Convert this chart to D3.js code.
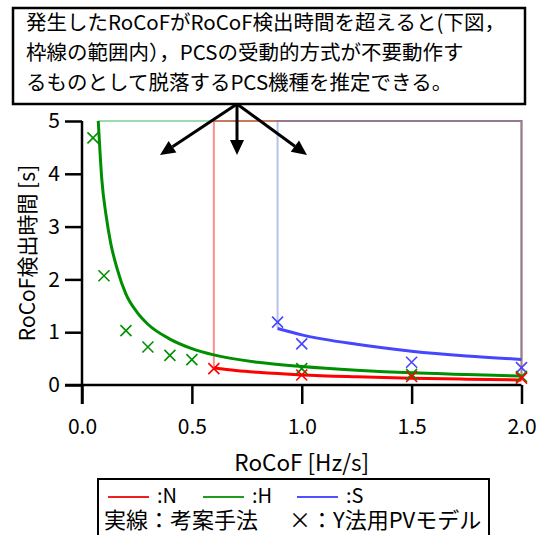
<!DOCTYPE html>
<html><head><meta charset="utf-8">
<script src="https://cdn.jsdelivr.net/npm/d3@7"></script>
<style>
html,body{margin:0;padding:0;background:#fff;}
svg{display:block;}
text{font-family:"Noto Sans CJK JP","Noto Sans",sans-serif;fill:#000;}
</style></head>
<body>
<svg id="chart" width="541" height="535"></svg>
<script>
// ---- data ----
const xTicks = [0, 0.5, 1.0, 1.5, 2.0];
const yTicks = [0, 1, 2, 3, 4, 5];
const xTickLabels = ["0.0", "0.5", "1.0", "1.5", "2.0"];

// proposed-method curves (solid lines)
const nCurveX = [0.6, 0.7, 0.8, 1.0, 1.25, 1.5, 1.75, 2.0];
const nCurveY = [0.32, 0.275, 0.24, 0.19, 0.155, 0.13, 0.11, 0.095];
const hCurveX = [0.074, 0.09, 0.11, 0.13, 0.16, 0.2, 0.25, 0.3, 0.4, 0.5, 0.6, 0.8, 1.0, 1.25, 1.5, 1.75, 2.0];
const hCurveY = [5.0, 3.9, 3.2, 2.7, 2.2, 1.72, 1.38, 1.15, 0.87, 0.69, 0.57, 0.43, 0.35, 0.28, 0.23, 0.2, 0.17];
const sCurveX = [0.89, 1.0, 1.25, 1.5, 1.75, 2.0];
const sCurveY = [1.07, 0.95, 0.77, 0.64, 0.55, 0.485];

// Y-method PV model results (× markers)
const nMarkX = [0.6, 1.0, 1.5, 2.0];
const nMarkY = [0.31, 0.19, 0.16, 0.13];
const hMarkX = [0.05, 0.1, 0.2, 0.3, 0.4, 0.5, 1.0, 1.5, 2.0];
const hMarkY = [4.68, 2.07, 1.03, 0.72, 0.56, 0.48, 0.31, 0.2, 0.16];
const sMarkX = [0.89, 1.0, 1.5, 2.0];
const sMarkY = [1.19, 0.78, 0.43, 0.33];

const seriesNames = ["N", "H", "S"];
const titleLines = [
  "発生したRoCoFがRoCoF検出時間を超えると(下図，",
  "枠線の範囲内），PCSの受動的方式が不要動作す",
  "るものとして脱落するPCS機種を推定できる。"
];
const xLabel = "RoCoF [Hz/s]";
const yLabel = "RoCoF検出時間 [s]";
const legendLine2a = "実線：考案手法";
const legendLine2b = "×：Y法用PVモデル";
const yMax = 5;

// ---- styles ----
const colors = {N: "#ff0000", H: "#008f00", S: "#4646ff"};
const legendColors = {N: "#f02020", H: "#209a20", S: "#5050ff"};
const latin = "Liberation Sans, Arial, sans-serif";

const svg = d3.select("#chart");
const x = d3.scaleLinear().domain([0, 2]).range([82, 521.5]);
const y = d3.scaleLinear().domain([0, 5]).range([385, 121]);

const zip = (xs, ys) => xs.map((v, i) => [v, ys[i]]);
const curves = {
  N: zip(nCurveX, nCurveY),
  H: zip(hCurveX, hCurveY),
  S: zip(sCurveX, sCurveY)
};
const marks = {
  N: zip(nMarkX, nMarkY),
  H: zip(hMarkX, hMarkY),
  S: zip(sMarkX, sMarkY)
};

// ---- region boxes (semi-transparent outlines) ----
const boxG = svg.append("g");
["H", "N", "S"].forEach(k => {
  const c = curves[k];
  const first = c[0], last = c[c.length - 1];
  const pts = [[first[0], first[1]], [first[0], yMax], [last[0], yMax], [last[0], last[1]]];
  boxG.append("path")
    .attr("d", d3.line().x(d => x(d[0])).y(d => y(d[1]))(pts))
    .attr("fill", "none")
    .attr("stroke", k === "S" ? "#5a7ad0" : (k === "H" ? "#20b050" : colors[k]))
    .attr("stroke-opacity", 0.45)
    .attr("stroke-width", 2);
});

// ---- curves ----
const line = d3.line().x(d => x(d[0])).y(d => y(d[1])).curve(d3.curveMonotoneX);
["H", "N", "S"].forEach(k => {
  svg.append("path")
    .attr("d", line(curves[k]))
    .attr("fill", "none")
    .attr("stroke", colors[k])
    .attr("stroke-width", 3);
});

// ---- markers ----
const ms = 5.5;
["S", "H", "N"].forEach(k => {
  svg.append("g").selectAll("path").data(marks[k]).join("path")
    .attr("d", d => {
      const cx = x(d[0]), cy = y(d[1]);
      return `M${cx - ms},${cy - ms}L${cx + ms},${cy + ms}M${cx - ms},${cy + ms}L${cx + ms},${cy - ms}`;
    })
    .attr("stroke", colors[k])
    .attr("stroke-width", 1.6)
    .attr("fill", "none");
});

// ---- axes ----
const axisW = 2.5;
const yAxis = d3.axisLeft(y).tickValues(yTicks).tickSize(17).tickPadding(5).tickFormat(d3.format("d"));
const gy = svg.append("g").attr("transform", `translate(${x(0)},0)`).call(yAxis);
gy.select(".domain").remove();
gy.selectAll(".tick line").attr("stroke", "#000").attr("stroke-width", axisW);
gy.selectAll(".tick text").attr("font-size", 21).attr("font-family", latin).attr("fill", "#000");

const xAxis = d3.axisBottom(x).tickValues(xTicks).tickSize(19).tickPadding(15).tickFormat((d, i) => xTickLabels[i]);
const gx = svg.append("g").attr("transform", `translate(0,${y(0)})`).call(xAxis);
gx.select(".domain").remove();
gx.selectAll(".tick line").attr("stroke", "#000").attr("stroke-width", axisW);
gx.selectAll(".tick text").attr("font-size", 21).attr("font-family", latin).attr("fill", "#000");

// axis lines (y axis extends below zero to tick length, x axis extends left)
svg.append("line").attr("x1", x(0)).attr("x2", x(0)).attr("y1", y(5)).attr("y2", y(0) + 19)
  .attr("stroke", "#000").attr("stroke-width", axisW);
svg.append("line").attr("x1", x(0) - 17).attr("x2", x(2)).attr("y1", y(0)).attr("y2", y(0))
  .attr("stroke", "#000").attr("stroke-width", axisW);

// axis titles
svg.append("text").attr("x", (x(0) + x(2)) / 2).attr("y", 471).attr("text-anchor", "middle")
  .attr("font-size", 22.5).text(xLabel);
svg.append("text").attr("transform", `translate(35,${(y(0) + y(5)) / 2}) rotate(-90)`)
  .attr("text-anchor", "middle").attr("font-size", 21).text(yLabel);

// ---- title box with arrows ----
svg.append("rect").attr("x", 13).attr("y", 8).attr("width", 512).attr("height", 96)
  .attr("fill", "#fff").attr("stroke", "#000").attr("stroke-width", 2.5);
svg.append("g").selectAll("text").data(titleLines).join("text")
  .attr("x", 26).attr("y", (d, i) => 30 + i * 30)
  .attr("font-size", 20.5).text(d => d);

const arrowOrigin = [237, 104];
const arrowTips = [[160, 155], [237, 155], [307, 155]];
const ag = svg.append("g");
arrowTips.forEach(t => {
  const dx = t[0] - arrowOrigin[0], dy = t[1] - arrowOrigin[1];
  const len = Math.hypot(dx, dy), ux = dx / len, uy = dy / len;
  const hl = 15, hw = 7;
  const bx = t[0] - ux * hl, by = t[1] - uy * hl;
  ag.append("line").attr("x1", arrowOrigin[0]).attr("y1", arrowOrigin[1]).attr("x2", bx).attr("y2", by)
    .attr("stroke", "#000").attr("stroke-width", 3);
  ag.append("path")
    .attr("d", `M${t[0]},${t[1]}L${bx - uy * hw},${by + ux * hw}L${bx + uy * hw},${by - ux * hw}Z`)
    .attr("fill", "#000");
});

// ---- legend ----
const lg = svg.append("g");
lg.append("rect").attr("x", 98).attr("y", 479).attr("width", 391).attr("height", 70)
  .attr("fill", "#fff").attr("stroke", "#000").attr("stroke-width", 2);
const legX = [108, 203, 297];
seriesNames.forEach((k, i) => {
  lg.append("line").attr("x1", legX[i]).attr("x2", legX[i] + 41).attr("y1", 497).attr("y2", 497)
    .attr("stroke", legendColors[k]).attr("stroke-width", 2);
  lg.append("text").attr("x", legX[i] + 49).attr("y", 503).attr("font-size", 20)
    .attr("font-family", latin).text(":" + k);
});
lg.append("text").attr("x", 104).attr("y", 528).attr("font-size", 22).text(legendLine2a);
lg.append("text").attr("x", 289).attr("y", 528).attr("font-size", 22).text(legendLine2b);
</script>
</body></html>
